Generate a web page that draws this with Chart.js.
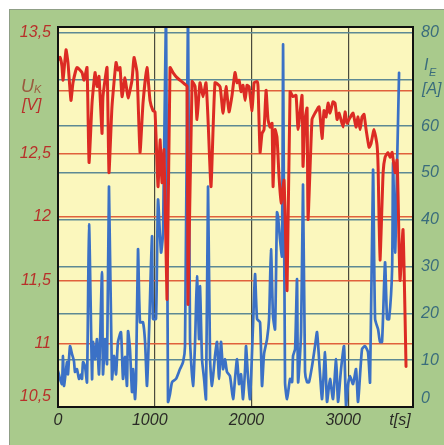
<!DOCTYPE html>
<html lang="de">
<head>
<meta charset="UTF-8">
<title>Klemmenspannung und Entladestrom</title>
<script src="https://cdn.jsdelivr.net/npm/chart.js"></script>
<style>
  html, body { margin: 0; padding: 0; background: #fff; }
  .panel { position: absolute; left: 0; top: 0; width: 444px; height: 445px; overflow: hidden; }
  .rahmen { position: absolute; left: 9px; top: 9px; right: 0; bottom: 0; background: #a9ca8c;
            border-left: 1px solid #8f9e86; border-top: 1px solid #8f9e86; }
  canvas { position: absolute; left: 0; top: 0; }
</style>
</head>
<body>
<div class="panel">
  <div class="rahmen"></div>
  <canvas id="grafico" width="444" height="445"></canvas>
</div>

<script>
// Klemmenspannung U_K (rot), Zeit in s
const tU = [0, 21, 41, 52, 83, 103, 134, 155, 196, 248, 269, 300, 321, 352, 383, 403, 424, 455, 465, 507,
  527, 558, 600, 620, 641, 662, 693, 724, 765, 786, 817, 848, 879, 920, 951, 982, 1003, 1034, 1055, 1075,
  1096, 1127, 1158, 1189, 1230, 1293, 1334, 1344, 1386, 1417, 1437, 1468, 1499, 1530, 1551, 1582, 1623, 1675, 1706, 1737,
  1768, 1799, 1830, 1851, 1872, 1892, 1913, 1934, 1954, 1975, 2006, 2027, 2058, 2068, 2089, 2109, 2130, 2151, 2171, 2192,
  2213, 2223, 2244, 2264, 2285, 2306, 2337, 2368, 2399, 2430, 2461, 2482, 2523, 2533, 2554, 2575, 2585, 2626, 2657, 2699,
  2730, 2750, 2771, 2792, 2812, 2843, 2864, 2885, 2906, 2947, 2968, 2988, 3009, 3050, 3081, 3102, 3123, 3143, 3164, 3185,
  3216, 3236, 3267, 3298, 3309, 3329, 3361, 3381, 3412, 3433, 3454, 3485, 3505, 3516, 3536, 3567, 3598];
const uK = [13.24, 13.26, 13.19, 13.08, 13.32, 13.22, 12.92, 13.06, 13.18, 13.14, 13.08, 13.18, 12.43, 12.90, 13.14, 13.03, 13.11, 12.66, 12.95, 13.18,
  12.35, 12.87, 13.22, 13.16, 13.18, 12.95, 13.10, 12.94, 13.08, 13.26, 13.14, 12.51, 12.90, 13.18, 12.92, 12.84, 12.83, 12.24, 12.61, 12.27,
  12.53, 11.35, 13.18, 13.14, 13.10, 13.06, 13.03, 11.31, 13.07, 13.03, 12.77, 13.06, 12.95, 13.06, 12.77, 12.24, 13.06, 13.03, 12.82, 13.03,
  12.83, 12.96, 13.14, 13.06, 13.08, 12.99, 13.04, 12.92, 13.04, 13.03, 12.84, 13.06, 13.07, 13.03, 12.51, 12.66, 12.69, 13.00, 12.77, 12.71,
  12.74, 12.24, 12.69, 12.63, 12.32, 12.11, 12.29, 11.42, 12.99, 12.95, 12.96, 12.69, 12.96, 12.40, 12.77, 12.86, 11.98, 12.77, 12.82, 12.87,
  12.62, 12.84, 12.79, 12.90, 12.82, 12.91, 12.90, 12.77, 12.82, 12.71, 12.83, 12.74, 12.77, 12.82, 12.71, 12.79, 12.69, 12.79, 12.81, 12.69,
  12.55, 12.58, 12.69, 12.57, 12.40, 11.66, 12.35, 12.47, 12.51, 12.47, 12.51, 12.35, 12.45, 12.16, 11.50, 11.90, 10.82];

// Entladestrom I_E (blau), Zeit in s
const tI = [0, 21, 41, 52, 62, 93, 103, 124, 145, 165, 176, 196, 217, 238, 248, 259, 279, 300, 321, 352,
  362, 383, 403, 424, 455, 465, 486, 507, 527, 558, 579, 600, 620, 651, 672, 693, 713, 724, 744, 765,
  776, 796, 807, 827, 848, 879, 900, 920, 941, 972, 982, 1013, 1034, 1065, 1086, 1117, 1137, 1158, 1179, 1220,
  1261, 1293, 1313, 1344, 1365, 1396, 1417, 1437, 1458, 1468, 1489, 1510, 1530, 1551, 1572, 1592, 1623, 1644, 1665, 1685,
  1706, 1727, 1747, 1778, 1810, 1830, 1851, 1872, 1892, 1913, 1934, 1944, 1965, 1985, 2016, 2037, 2058, 2089, 2109, 2130,
  2161, 2182, 2202, 2223, 2244, 2264, 2275, 2295, 2316, 2327, 2347, 2368, 2399, 2420, 2430, 2451, 2471, 2482, 2513, 2533,
  2554, 2575, 2595, 2626, 2657, 2678, 2709, 2730, 2761, 2781, 2812, 2843, 2875, 2895, 2926, 2957, 2978, 2999, 3019, 3050,
  3081, 3102, 3143, 3174, 3205, 3226, 3257, 3278, 3309, 3329, 3350, 3381, 3402, 3423, 3454, 3464, 3485, 3505, 3526];
const iE = [7.7, 6.0, 4.9, 10.9, 4.5, 9.6, 7.0, 13.0, 11.3, 9.8, 7.5, 8.1, 6.0, 7.0, 6.0, 9.6, 8.7, 5.3, 39.0, 6.0,
  13.9, 10.2, 14.5, 7.0, 28.8, 7.0, 14.5, 9.2, 47.1, 6.0, 10.9, 7.0, 13.9, 16.0, 6.0, 10.7, 4.5, 16.2, 12.4, 3.2,
  8.1, 1.7, 6.0, 33.7, 18.1, 18.1, 13.9, 4.5, 16.0, 36.5, 18.8, 18.8, 44.3, 33.0, 37.3, 85, 1.1, 2.8, 5.3, 6.0,
  8.1, 9.6, 13.0, 85, 14.5, 4.5, 13.9, 27.9, 14.5, 25.8, 10.2, 6.0, 1.7, 47.1, 10.2, 4.5, 10.9, 13.9, 6.0, 13.9,
  8.1, 10.2, 7.5, 6.6, 1.7, 6.0, 10.2, 4.9, 7.0, 1.7, 8.1, 13.0, 6.0, 1.7, 17.3, 28.4, 18.8, 18.1, 4.5, 11.3,
  14.5, 18.8, 33.7, 19.4, 16.6, 41.6, 40.7, 35.8, 32.2, 77.4, 5.3, 1.7, 6.0, 5.3, 10.9, 12.4, 27.3, 5.3, 16.0, 47.5,
  7.5, 5.3, 5.3, 8.7, 13.0, 16.0, 7.0, 1.7, 11.7, 1.1, 6.0, 1.7, 10.2, 1.1, 8.1, 13.0, 0.2, 4.9, 6.6, 4.9,
  8.1, 1.1, 12.4, 13.0, 11.7, 5.3, 50.7, 18.8, 16.6, 13.9, 13.9, 30.9, 18.8, 18.8, 29.4, 52.2, 33.0, 51.4, 71.4];

// Achsenteilung
const xTicks = [0, 1000, 2000, 3000];
const uTicks = [10.5, 11, 11.5, 12, 12.5, 13, 13.5];
const iTicks = [0, 10, 20, 30, 40, 50, 60, 70, 80];

const unsichtbar = 'rgba(0,0,0,0)';

// gelbe Flaeche und schwarzer Rahmen
const flaeche = {
  id: 'flaeche',
  beforeDraw(chart) {
    const { ctx, chartArea: a } = chart;
    ctx.save();
    ctx.fillStyle = '#fbf7bd';
    ctx.fillRect(a.left, a.top, a.right - a.left, a.bottom - a.top);
    ctx.restore();
  },
  afterDraw(chart) {
    const { ctx, chartArea: a } = chart;
    ctx.save();
    ctx.strokeStyle = '#111';
    ctx.lineWidth = 2;
    ctx.strokeRect(a.left, a.top, a.right - a.left, a.bottom - a.top);
    ctx.restore();
  }
};

// Beschriftungen
const etiketten = {
  id: 'etiketten',
  afterDraw(chart) {
    const { ctx, chartArea: a, scales } = chart;
    ctx.save();
    ctx.font = 'italic 16px "Liberation Sans", Arial, sans-serif';
    ctx.textBaseline = 'middle';

    // links, Spannung
    ctx.fillStyle = '#b8302a';
    ctx.textAlign = 'right';
    uTicks.forEach(function (v) {
      if (v === 13) return;
      let y = scales.yU.getPixelForValue(v);
      y = Math.min(Math.max(y, a.top + 6), a.bottom - 10);
      ctx.fillText(String(v).replace('.', ','), 51, y);
    });

    // rechts, Strom
    ctx.fillStyle = '#3a6c7c';
    ctx.textAlign = 'left';
    iTicks.forEach(function (v) {
      if (v === 70) return;
      let y = scales.yI.getPixelForValue(v);
      y = Math.min(Math.max(y, a.top + 6), a.bottom - 8);
      ctx.fillText(String(v), 421, y);
    });

    // unten, Zeit
    ctx.fillStyle = '#2a2a26';
    ctx.textAlign = 'center';
    xTicks.forEach(function (v) {
      const x = scales.x.getPixelForValue(v);
      ctx.fillText(String(v), v ? x - 5 : x, 421);
    });
    ctx.fillText('t[s]', 400, 421);

    // Achsentitel
    ctx.textBaseline = 'alphabetic';
    ctx.textAlign = 'left';
    ctx.fillStyle = '#9a5a3e';
    ctx.font = 'italic 18px "Liberation Sans", Arial, sans-serif';
    ctx.fillText('U', 21, 92);
    ctx.font = 'italic 11px "Liberation Sans", Arial, sans-serif';
    ctx.fillText('K', 34, 93);
    ctx.fillStyle = '#b8302a';
    ctx.font = 'italic 16px "Liberation Sans", Arial, sans-serif';
    ctx.fillText('[V]', 22, 110);

    ctx.fillStyle = '#3a6c7c';
    ctx.fillText('I', 424, 70);
    ctx.font = 'italic 11px "Liberation Sans", Arial, sans-serif';
    ctx.fillText('E', 429, 76);
    ctx.font = 'italic 16px "Liberation Sans", Arial, sans-serif';
    ctx.fillText('[A]', 422, 94);
    ctx.restore();
  }
};

function setzeTicks(werte) {
  return function (scale) {
    scale.ticks = werte.map(function (v) { return { value: v }; });
  };
}

const dados = {
  datasets: [{
    label: 'U_K',
    data: tU.map(function (t, i) { return { x: t, y: uK[i] }; }),
    yAxisID: 'yU',
    borderColor: '#dc2b24',
    borderWidth: 3,
    borderJoinStyle: 'round',
    borderCapStyle: 'round',
    tension: 0.15,
    pointRadius: 0
  }, {
    label: 'I_E',
    data: tI.map(function (t, i) { return { x: t, y: iE[i] }; }),
    yAxisID: 'yI',
    borderColor: '#3b71c6',
    borderWidth: 2.7,
    borderJoinStyle: 'round',
    borderCapStyle: 'round',
    tension: 0.2,
    pointRadius: 0
  }]
};

const config = {
  type: 'line',
  data: dados,
  options: {
    responsive: false,
    animation: false,
    layout: { padding: { left: 58, right: 31, top: 27, bottom: 38 } },
    plugins: { legend: { display: false }, tooltip: { enabled: false } },
    scales: {
      x: {
        type: 'linear', min: 0, max: 3670,
        afterBuildTicks: setzeTicks(xTicks),
        ticks: { display: false },
        border: { display: false },
        grid: { drawTicks: false, lineWidth: 1.2,
          color: function (c) { return c.tick && c.tick.value === 0 ? unsichtbar : '#4a4a3c'; } }
      },
      yU: {
        type: 'linear', position: 'left', min: 10.5, max: 13.5,
        afterBuildTicks: setzeTicks(uTicks),
        ticks: { display: false },
        border: { display: false },
        grid: { drawTicks: false, lineWidth: 1.5,
          color: function (c) {
            const v = c.tick && c.tick.value;
            return (v === 10.5 || v === 13.5) ? unsichtbar : '#e0613c';
          } }
      },
      yI: {
        type: 'linear', position: 'right', min: 0, max: 81.2,
        afterBuildTicks: setzeTicks(iTicks),
        ticks: { display: false },
        border: { display: false },
        grid: { drawTicks: false, lineWidth: 1.5,
          color: function (c) { return c.tick && c.tick.value === 0 ? unsichtbar : '#5d8994'; } }
      }
    }
  },
  plugins: [flaeche, etiketten]
};

let myChart = new Chart(document.getElementById('grafico'), config);
</script>
</body>
</html>
